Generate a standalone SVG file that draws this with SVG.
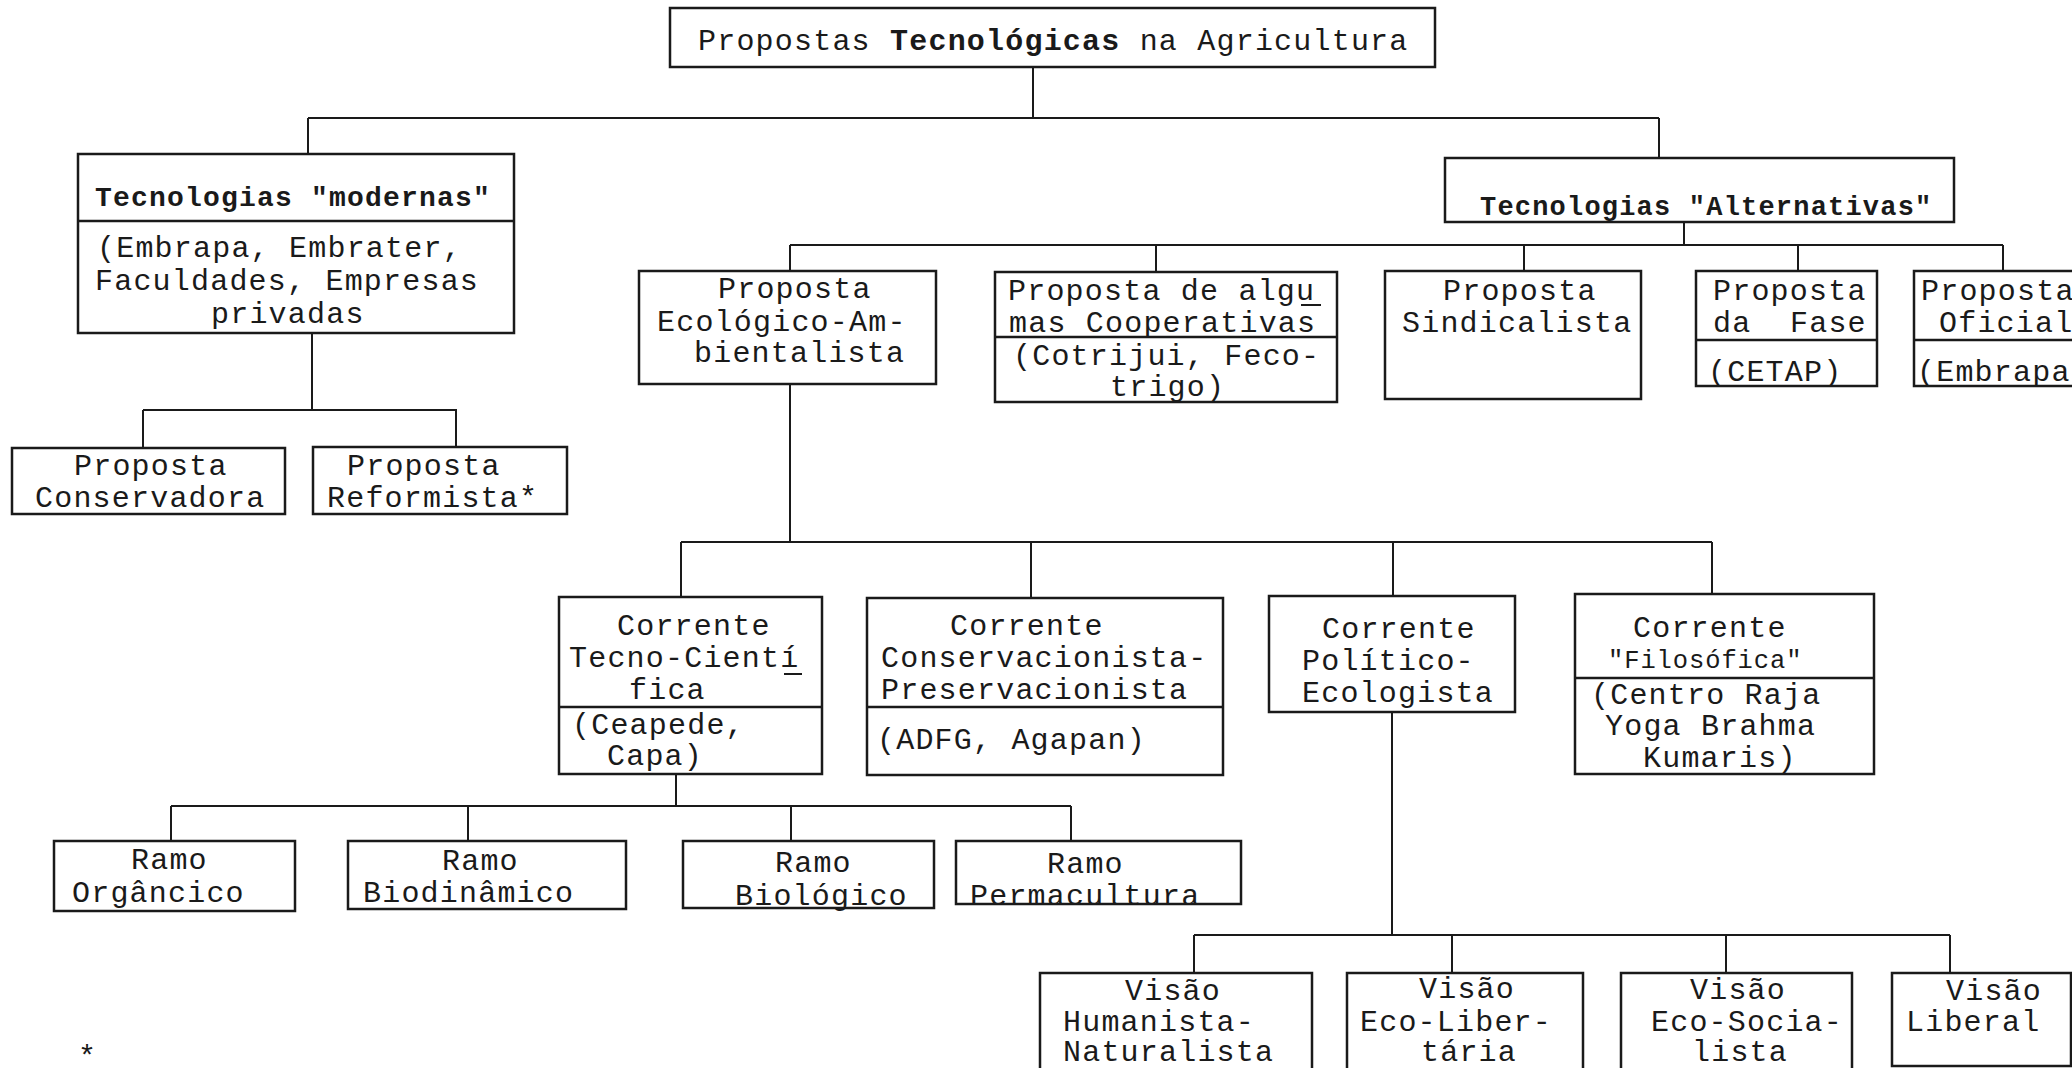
<svg xmlns="http://www.w3.org/2000/svg" width="2072" height="1068" viewBox="0 0 2072 1068">
<style>
  .bg { fill: #ffffff; }
  .box { fill: none; stroke: #1a1a1a; stroke-width: 2.5; }
  .div { stroke: #1a1a1a; stroke-width: 2.5; fill: none; }
  .con { stroke: #1a1a1a; stroke-width: 2; fill: none; }
  text { font-family: "Liberation Mono", "DejaVu Sans Mono", monospace; font-size: 30px; letter-spacing: 1.2px; fill: #1a1a1a; }
  .b { font-weight: bold; }
  .t30 { font-size: 28px; letter-spacing: 1.2px; }
  .t29 { font-size: 27px; letter-spacing: 1.2px; }
  .t27 { font-size: 25.5px; letter-spacing: 0.9px; }
</style>
<rect class="bg" x="0" y="0" width="2072" height="1068"/>

<g id="connectors">
  <path class="con" d="M1033 67 V118 M308 118 H1659 M308 118 V154 M1659 118 V158"/>
  <path class="con" d="M312 333 V410 M143 410 H457 M143 410 V448 M456 410 V447"/>
  <path class="con" d="M1684 222 V245 M790 245 H2003 M790 245 V271 M1156 245 V272 M1524 245 V271 M1798 245 V271 M2003 245 V271"/>
  <path class="con" d="M790 384 V542 M681 542 H1712 M681 542 V597 M1031 542 V598 M1393 542 V596 M1712 542 V594"/>
  <path class="con" d="M676 774 V806 M171 806 H1071 M171 806 V841 M468 806 V841 M791 806 V841 M1071 806 V841"/>
  <path class="con" d="M1392 712 V935 M1194 935 H1950 M1194 935 V973 M1452 935 V973 M1726 935 V973 M1950 935 V973"/>
</g>

<g id="n-root">
  <rect class="box" x="670" y="8" width="765" height="59"/>
  <text x="698" y="50">Propostas <tspan class="b">Tecnológicas</tspan> na Agricultura</text>
</g>

<g id="n-modernas">
  <rect class="box" x="78" y="154" width="436" height="179"/>
  <line class="div" x1="78" y1="221" x2="514" y2="221"/>
  <text class="b t30" x="95" y="206">Tecnologias "modernas"</text>
  <text x="97" y="257">(Embrapa, Embrater,</text>
  <text x="95" y="290">Faculdades, Empresas</text>
  <text x="211" y="323">privadas</text>
</g>

<g id="n-conservadora">
  <rect class="box" x="12" y="448" width="273" height="66"/>
  <text x="74" y="475">Proposta</text>
  <text x="35" y="507">Conservadora</text>
</g>

<g id="n-reformista">
  <rect class="box" x="313" y="447" width="254" height="67"/>
  <text x="347" y="475">Proposta</text>
  <text x="327" y="507">Reformista*</text>
</g>

<g id="n-alternativas">
  <rect class="box" x="1445" y="158" width="509" height="64"/>
  <text class="b t29" x="1480" y="215">Tecnologias "Alternativas"</text>
</g>

<g id="n-ecologico">
  <rect class="box" x="639" y="271" width="297" height="113"/>
  <text x="718" y="298">Proposta</text>
  <text x="657" y="331">Ecológico-Am-</text>
  <text x="694" y="362">bientalista</text>
</g>

<g id="n-cooperativas">
  <rect class="box" x="995" y="272" width="342" height="130"/>
  <line class="div" x1="995" y1="337" x2="1337" y2="337"/>
  <text x="1008" y="300">Proposta de algu</text>
  <line class="con" x1="1301" y1="305" x2="1321" y2="305"/>
  <text x="1009" y="332">mas Cooperativas</text>
  <text x="1013" y="365">(Cotrijui, Feco-</text>
  <text x="1110" y="396">trigo)</text>
</g>

<g id="n-sindicalista">
  <rect class="box" x="1385" y="271" width="256" height="128"/>
  <text x="1443" y="300">Proposta</text>
  <text x="1402" y="332">Sindicalista</text>
</g>

<g id="n-fase">
  <rect class="box" x="1696" y="271" width="181" height="115"/>
  <line class="div" x1="1696" y1="340" x2="1877" y2="340"/>
  <text x="1713" y="300">Proposta</text>
  <text x="1713" y="332">da</text>
  <text x="1790" y="332">Fase</text>
  <text x="1708" y="381">(CETAP)</text>
</g>

<g id="n-oficial">
  <rect class="box" x="1914" y="271" width="180" height="115"/>
  <line class="div" x1="1914" y1="340" x2="2094" y2="340"/>
  <text x="1921" y="300">Proposta</text>
  <text x="1939" y="332">Oficial</text>
  <text x="1917" y="381">(Embrapa</text>
</g>

<g id="n-tecnocientifica">
  <rect class="box" x="559" y="597" width="263" height="177"/>
  <line class="div" x1="559" y1="707" x2="822" y2="707"/>
  <text x="617" y="635">Corrente</text>
  <text x="569" y="667">Tecno-Cientí</text>
  <line class="con" x1="784" y1="674" x2="802" y2="674"/>
  <text x="629" y="699">fica</text>
  <text x="572" y="734">(Ceapede,</text>
  <text x="607" y="765">Capa)</text>
</g>

<g id="n-conservacionista">
  <rect class="box" x="867" y="598" width="356" height="177"/>
  <line class="div" x1="867" y1="707" x2="1223" y2="707"/>
  <text x="950" y="635">Corrente</text>
  <text x="881" y="667">Conservacionista-</text>
  <text x="881" y="699">Preservacionista</text>
  <text x="877" y="749">(ADFG, Agapan)</text>
</g>

<g id="n-politico">
  <rect class="box" x="1269" y="596" width="246" height="116"/>
  <text x="1322" y="638">Corrente</text>
  <text x="1302" y="670">Político-</text>
  <text x="1302" y="702">Ecologista</text>
</g>

<g id="n-filosofica">
  <rect class="box" x="1575" y="594" width="299" height="180"/>
  <line class="div" x1="1575" y1="678" x2="1874" y2="678"/>
  <text x="1633" y="637">Corrente</text>
  <text class="t27" x="1608" y="668">"Filosófica"</text>
  <text x="1591" y="704">(Centro Raja</text>
  <text x="1605" y="735">Yoga Brahma</text>
  <text x="1643" y="767">Kumaris)</text>
</g>

<g id="n-organico">
  <rect class="box" x="54" y="841" width="241" height="70"/>
  <text x="131" y="869">Ramo</text>
  <text x="72" y="902">Orgâncico</text>
</g>

<g id="n-biodinamico">
  <rect class="box" x="348" y="841" width="278" height="68"/>
  <text x="442" y="870">Ramo</text>
  <text x="363" y="902">Biodinâmico</text>
</g>

<g id="n-biologico">
  <rect class="box" x="683" y="841" width="251" height="67"/>
  <text x="775" y="872">Ramo</text>
  <text x="735" y="905">Biológico</text>
</g>

<g id="n-permacultura">
  <rect class="box" x="956" y="841" width="285" height="63"/>
  <text x="1047" y="873">Ramo</text>
  <text x="970" y="905">Permacultura</text>
</g>

<g id="n-humanista">
  <rect class="box" x="1040" y="973" width="272" height="100"/>
  <text x="1125" y="1000">Visão</text>
  <text x="1063" y="1031">Humanista-</text>
  <text x="1063" y="1061">Naturalista</text>
</g>

<g id="n-ecolibertaria">
  <rect class="box" x="1347" y="973" width="236" height="100"/>
  <text x="1419" y="998">Visão</text>
  <text x="1360" y="1031">Eco-Liber-</text>
  <text x="1421" y="1061">tária</text>
</g>

<g id="n-ecosocialista">
  <rect class="box" x="1621" y="973" width="231" height="100"/>
  <text x="1690" y="999">Visão</text>
  <text x="1651" y="1031">Eco-Socia-</text>
  <text x="1692" y="1061">lista</text>
</g>

<g id="n-liberal">
  <rect class="box" x="1892" y="973" width="179" height="93"/>
  <text x="1946" y="1000">Visão</text>
  <text x="1906" y="1031">Liberal</text>
</g>

<text x="78" y="1066">*</text>
</svg>
